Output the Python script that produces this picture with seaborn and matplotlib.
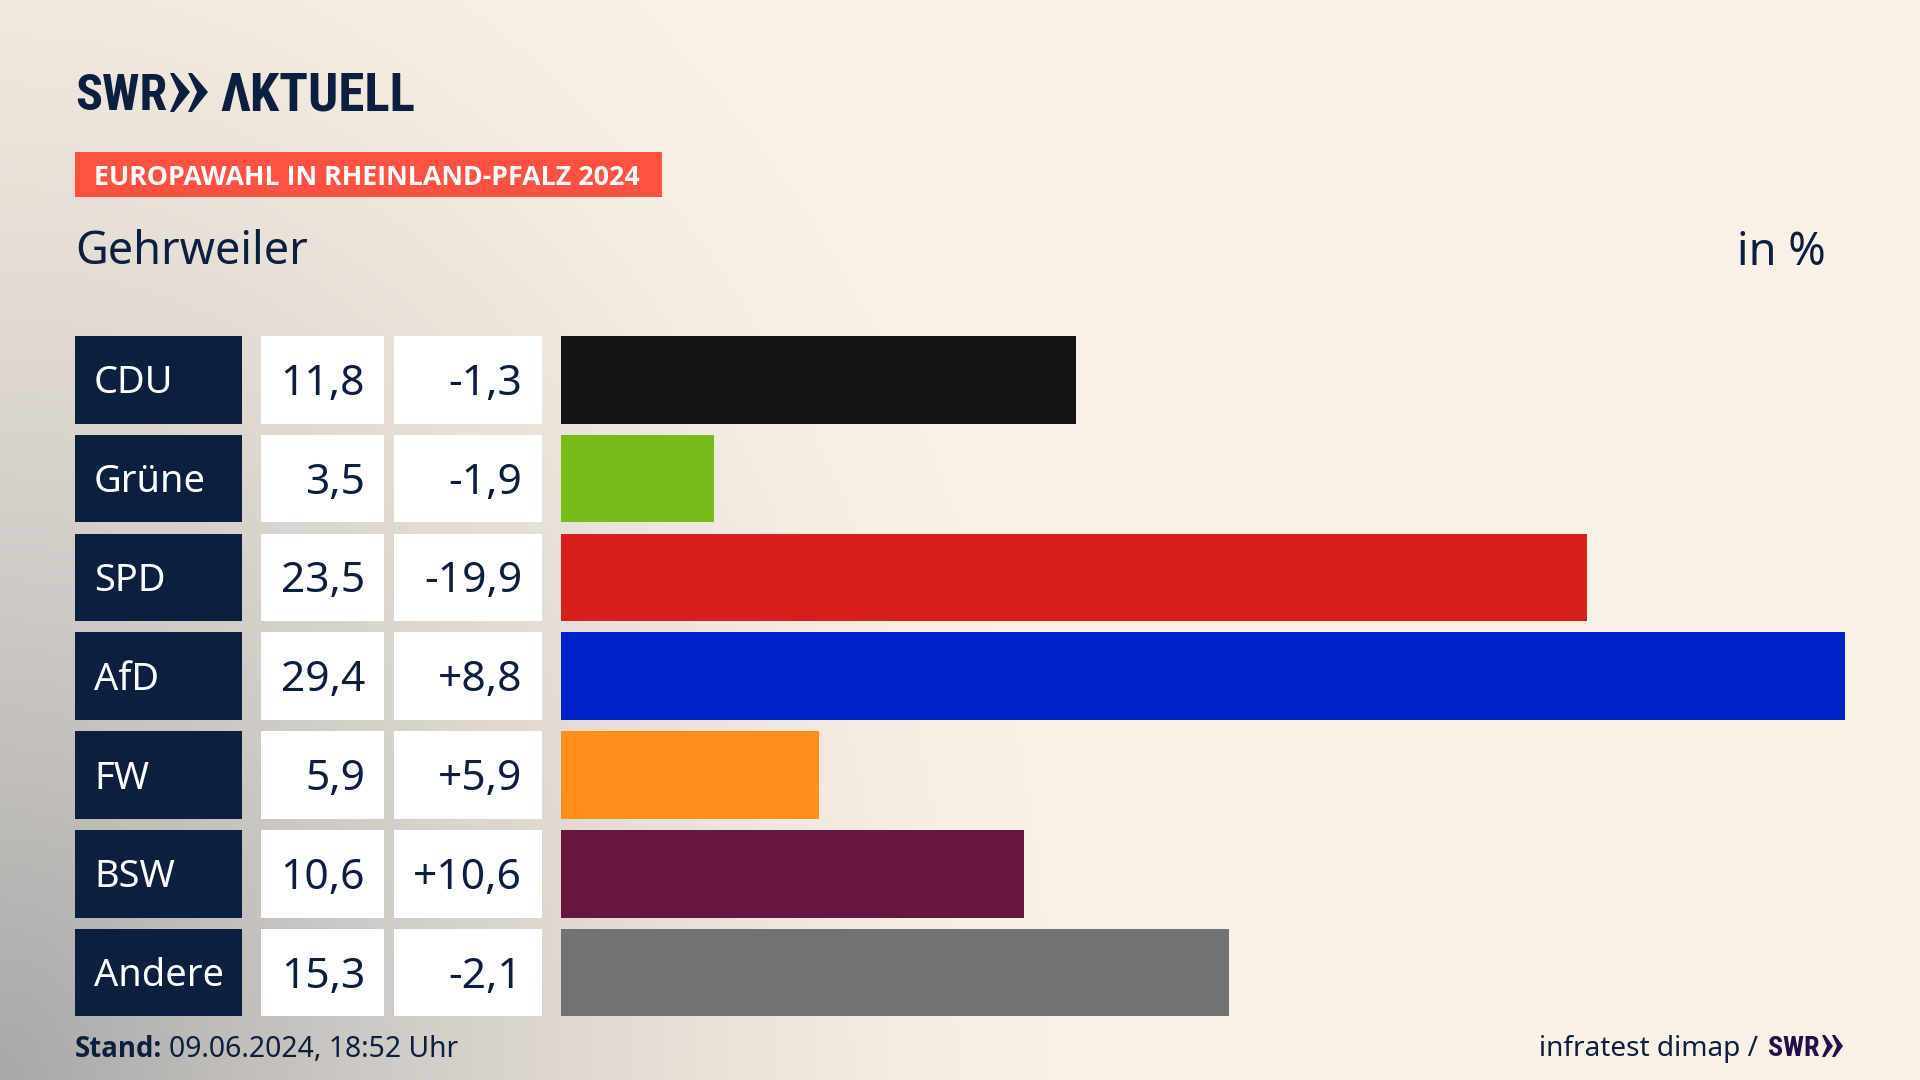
import numpy as np
import pandas as pd
import matplotlib
matplotlib.use("Agg")
import matplotlib.pyplot as plt
from matplotlib.patches import Rectangle, Polygon
import seaborn as sns

parties = ["CDU", "Grüne", "SPD", "AfD", "FW", "BSW", "Andere"]
shares = [11.8, 3.5, 23.5, 29.4, 5.9, 10.6, 15.3]
changes = [-1.3, -1.9, -19.9, 8.8, 5.9, 10.6, -2.1]
bar_colors = ["#141414", "#78BC1B", "#D7201E", "#0021C7", "#FF8F16", "#67173F", "#717274"]

title_badge = "EUROPAWAHL IN RHEINLAND-PFALZ 2024"
place = "Gehrweiler"
unit = "in %"
stand_label = "Stand:"
stand_value = "09.06.2024, 18:52 Uhr"
source = "infratest dimap /"

NAVY = "#0C1F3F"
BADGE = "#FF5240"
W, H = 1920, 1080
NARROW = "Roboto Condensed"
BOLD = "Open Sans"

sns.set_theme(style="white")
plt.rcParams["font.family"] = ["Noto Sans", "DejaVu Sans"]

fig = plt.figure(figsize=(W / 100, H / 100), dpi=100)

# background: cream with a soft grey glow from the lower-left corner
bg = fig.add_axes([0, 0, 1, 1], zorder=0)
yy, xx = np.mgrid[0:H:270j, 0:W:480j]
dist = np.sqrt((xx / 1050.0) ** 2 + ((H - yy) / 1350.0) ** 2)
glow = np.clip(1 - dist, 0, 1) ** 1.4
cream = np.array([250, 241, 230]) / 255
grey = np.array([168, 168, 168]) / 255
img = cream[None, None, :] * (1 - glow[..., None]) + grey[None, None, :] * glow[..., None]
bg.imshow(img, extent=[0, W, H, 0], aspect="auto", interpolation="bilinear")
bg.set_xlim(0, W)
bg.set_ylim(H, 0)
bg.axis("off")

# bars through seaborn
TOP, PITCH, BAR_H = 336, 98.83, 87.5
X0, X1 = 561, 1845
ymid0 = TOP + BAR_H / 2
ax_top = ymid0 - PITCH / 2
ax_h = PITCH * len(parties)
ax = fig.add_axes([X0 / W, 1 - (ax_top + ax_h) / H, (X1 - X0) / W, ax_h / H], zorder=2)
ax.patch.set_alpha(0)
df = pd.DataFrame({"party": parties, "share": shares})
sns.barplot(data=df, x="share", y="party", hue="party", palette=bar_colors, legend=False,
            width=BAR_H / PITCH, saturation=1, dodge=False, linewidth=0, edgecolor="none", ax=ax)
ax.set_xlim(0, max(shares))
ax.set_ylim(len(parties) - 0.5, -0.5)
ax.axis("off")

# overlay in pixel coordinates: cells and text
ov = fig.add_axes([0, 0, 1, 1], zorder=3)
ov.set_xlim(0, W)
ov.set_ylim(H, 0)
ov.axis("off")
ov.patch.set_alpha(0)


def px(size):
    return size * 0.72


def fmt(v, sign=False):
    s = f"{v:+.1f}" if sign else f"{v:.1f}"
    return s.replace(".", ",")


for i, (p, s, c) in enumerate(zip(parties, shares, changes)):
    y = TOP + i * PITCH
    ov.add_patch(Rectangle((75, y), 167, BAR_H, fc=NAVY, ec="none"))
    ov.add_patch(Rectangle((261, y), 123, BAR_H, fc="white", ec="none"))
    ov.add_patch(Rectangle((394, y), 148, BAR_H, fc="white", ec="none"))
    base = y + BAR_H / 2 + 14
    ov.text(94, base - 0.5, p, color="white", fontsize=px(38), ha="left", va="baseline")
    ov.text(365, base + 1, fmt(s), color=NAVY, fontsize=px(42.5), ha="right", va="baseline")
    ov.text(522, base + 1, fmt(c, True), color=NAVY, fontsize=px(42.5), ha="right", va="baseline")

# logo
ov.text(75, 110, "SWR", family=NARROW, weight="bold", fontsize=px(50), color=NAVY, va="baseline")
for x0 in (170, 188):
    ov.add_patch(Polygon([(x0, 73), (x0 + 4, 73), (x0 + 20, 92), (x0 + 4, 112), (x0, 112), (x0 + 9, 92)],
                         fc=NAVY, ec="none"))
ov.text(220, 110.5, "ΛKTUELL", family=NARROW, weight="bold", fontsize=px(53), color=NAVY, va="baseline")

# badge
ov.add_patch(Rectangle((75, 152), 587, 45, fc=BADGE, ec="none"))
ov.text(94, 185, title_badge, color="white", family=BOLD, weight="bold", fontsize=px(26.8), va="baseline")

# headings
ov.text(75, 264, place, color=NAVY, fontsize=px(45), va="baseline")
ov.text(1826, 265, unit, color=NAVY, fontsize=px(45), ha="right", va="baseline")

# footer
ov.text(75, 1057, stand_label, color=NAVY, family=BOLD, weight="bold", fontsize=px(27.5), va="baseline")
ov.text(169, 1057, stand_value, color=NAVY, fontsize=px(28.3), va="baseline")
ov.text(1539, 1056, source, color=NAVY, fontsize=px(28), va="baseline")
ov.text(1768, 1056, "SWR", family=NARROW, weight="bold", fontsize=px(28), color="#20104A", va="baseline")
for x0 in (1822, 1832):
    ov.add_patch(Polygon([(x0, 1035), (x0 + 3, 1035), (x0 + 11, 1046), (x0 + 3, 1057), (x0, 1057), (x0 + 5, 1046)],
                         fc="#20104A", ec="none"))

fig.savefig("out.png", dpi=100)
